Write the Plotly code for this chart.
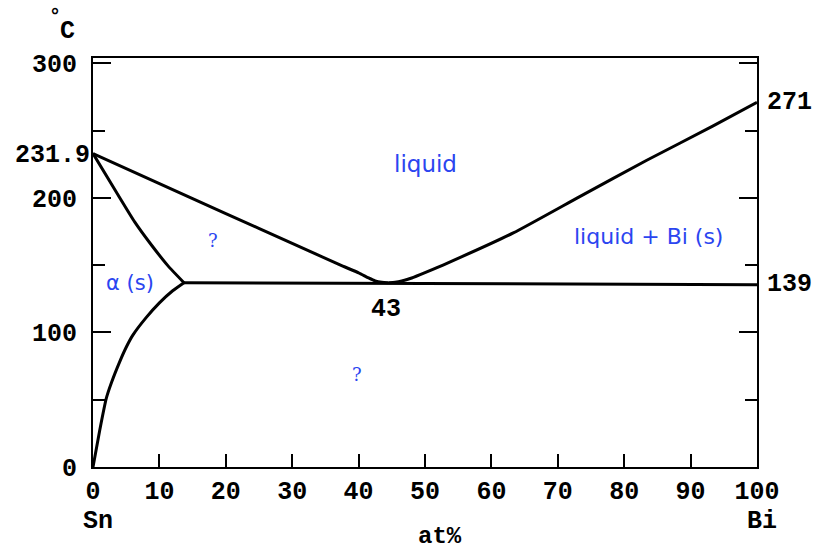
import plotly.graph_objects as go

# Phase boundary data (at% Bi, temperature °C)
liq_left_x = [0, 10, 20, 30, 37.2, 40, 41.5, 42.5, 43.5, 44.5]
liq_left_y = [233, 210.7, 188.4, 166.2, 150.2, 144.3, 140.5, 138.3, 137.3, 137]
liq_right_x = [44.5, 45.5, 46.5, 48, 50, 53.3, 63.3, 73.3, 83.4, 93.4, 100]
liq_right_y = [137, 137.3, 138.2, 140.5, 144.5, 151.4, 174, 201, 228, 253.5, 271]
alpha_liq_x = [0, 3.8, 6.3, 8.8, 11.3, 13.7]
alpha_liq_y = [233, 202, 182, 165, 149.5, 137]
solvus_x = [0, 1, 2, 2.8, 4, 5, 6, 8, 10, 12, 13.7]
solvus_y = [0, 27, 51, 63, 78, 89, 98, 111, 122, 131, 137]
eutectic_x = [13.7, 100]
eutectic_y = [137, 135.5]

x_ticks = [0, 10, 20, 30, 40, 50, 60, 70, 80, 90, 100]
y_ticks = [0, 100, 200, 300]
y_minor = [50, 150, 250]

MONO = "Liberation Mono"
BLUE = "#2b45f0"
Y_MAX = 304

fig = go.Figure()
for xs, ys in [(liq_left_x, liq_left_y), (liq_right_x, liq_right_y),
               (alpha_liq_x, alpha_liq_y), (solvus_x, solvus_y),
               (eutectic_x, eutectic_y)]:
    fig.add_trace(go.Scatter(x=xs, y=ys, mode="lines",
                             line=dict(color="black", width=3, shape="spline", smoothing=0.5),
                             showlegend=False, hoverinfo="skip"))

fig.update_layout(
    width=814, height=550,
    margin=dict(l=93, r=57, t=58, b=83, autoexpand=False),
    paper_bgcolor="white", plot_bgcolor="white",
    xaxis=dict(range=[0, 100], showgrid=False, zeroline=False, showline=True, mirror=True,
               linecolor="black", linewidth=2, ticks="inside", ticklen=13, tickwidth=2,
               tickcolor="black", tickvals=x_ticks, ticktext=[str(v) for v in x_ticks],
               tickfont=dict(family=MONO, size=25, color="black", weight="bold"),
               ticklabelstandoff=0),
    yaxis=dict(range=[0, Y_MAX], showgrid=False, zeroline=False, showline=True, mirror="allticks",
               linecolor="black", linewidth=2, ticks="inside", ticklen=18, tickwidth=2,
               tickcolor="black", tickvals=y_ticks, ticktext=[str(v) for v in y_ticks],
               tickfont=dict(family=MONO, size=25, color="black", weight="bold"),
               ticklabelstandoff=9,
               minor=dict(tickvals=y_minor, ticks="inside", ticklen=12, tickwidth=2, tickcolor="black")),
)

def ann(text, x, y, size=25, color="black", family=MONO, weight="bold", xanchor="center",
        xref="paper", yref="paper"):
    fig.add_annotation(text=text, x=x, y=y, xref=xref, yref=yref, showarrow=False,
                       xanchor=xanchor, yanchor="middle",
                       font=dict(family=family, size=size, color=color, weight=weight))

ann("231.9", -0.002, 231.9 / Y_MAX, xanchor="right")
ann("271", 1.012, 271 / Y_MAX, xanchor="left")
ann("139", 1.012, 0.447, xanchor="left")
ann("43", 44.2, 117, xref="x", yref="y")
ann("Sn", 0.0075, -0.134)
ann("Bi", 1.0075, -0.134)
ann("at%", 0.5226, -0.17, size=24)
ann("°", -0.057, 1.101, size=20)
ann("C", -0.0377, 1.064)

ann("liquid", 50, 225, size=23, color=BLUE, family="DejaVu Sans", weight="normal", xref="x", yref="y")
ann("liquid + Bi (s)", 83.7, 171, size=22, color=BLUE, family="DejaVu Sans", weight="normal", xref="x", yref="y")
ann("α (s)", 5.5, 137, size=21, color=BLUE, family="DejaVu Sans", weight="normal", xref="x", yref="y")
ann("?", 18.1, 168, size=18, color=BLUE, family="DejaVu Serif", weight="normal", xref="x", yref="y")
ann("?", 39.7, 69, size=18, color=BLUE, family="DejaVu Serif", weight="normal", xref="x", yref="y")

fig.write_html("out.html", config={"displayModeBar": False},
               post_script="document.body.style.margin='0';")
